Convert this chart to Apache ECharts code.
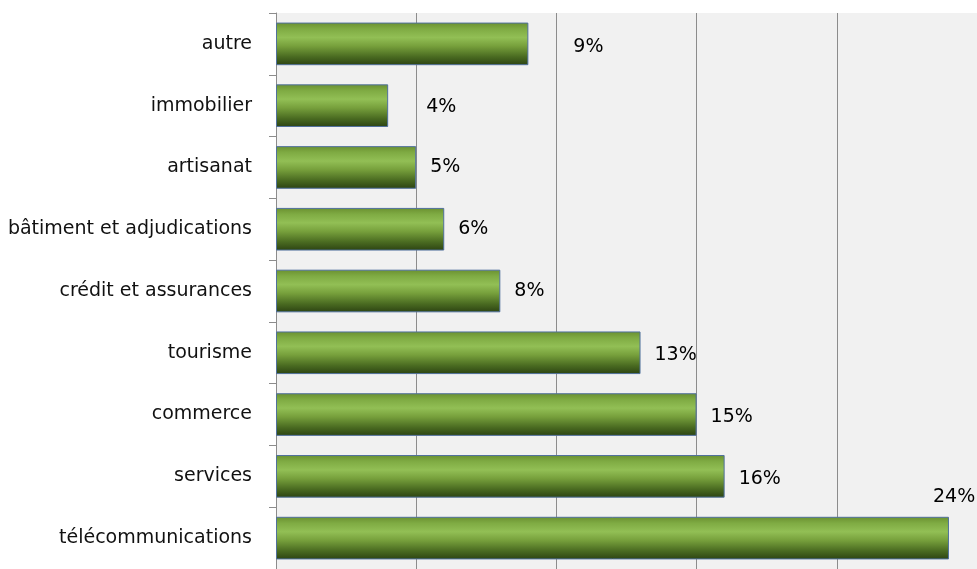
<!DOCTYPE html>
<html>
<head>
<meta charset="utf-8">
<script src="https://cdn.jsdelivr.net/npm/echarts@6/dist/echarts.min.js"></script>
<style>html,body{margin:0;padding:0;background:#fff;}#c{width:977px;height:569px;}</style>
</head>
<body>
<div id="c"></div>
<script>
const categories = ["autre", "immobilier", "artisanat", "bâtiment et adjudications", "crédit et assurances", "tourisme", "commerce", "services", "télécommunications"];
const values = [9, 4, 5, 6, 8, 13, 15, 16, 24];
const axisMax = 25;
const axisStep = 5;

// label nudges (styling only), matching manually placed labels in the original
const labelNudges = [[31, 3], [24, 1], [0, 0], [0, 0], [0, 0], [0, 2], [0, 3], [0, 3], [-30, -41]];

const chart = echarts.init(document.getElementById('c'));
const barGradient = new echarts.graphic.LinearGradient(0, 0, 0, 1, [
  {offset: 0, color: '#6a9030'},
  {offset: 0.15, color: '#7fab43'},
  {offset: 0.35, color: '#92bf55'},
  {offset: 0.55, color: '#77a03c'},
  {offset: 0.8, color: '#4a6b21'},
  {offset: 1, color: '#2c4312'}
]);
chart.setOption({
  animation: false,
  grid: {left: 276, right: -2, top: 13, bottom: -6, show: true, backgroundColor: '#f1f1f1', borderWidth: 0},
  xAxis: {
    type: 'value', min: 0, max: axisMax, interval: axisStep,
    axisLabel: {show: false}, axisTick: {show: false}, axisLine: {show: false},
    splitLine: {show: true, lineStyle: {color: '#8c8c8c', width: 1}}
  },
  yAxis: {
    type: 'category', data: categories, inverse: true,
    axisLine: {show: true, lineStyle: {color: '#8c8c8c', width: 1}},
    axisTick: {show: true, length: 7, lineStyle: {color: '#8c8c8c'}},
    axisLabel: {color: '#111', fontFamily: 'DejaVu Sans', fontSize: 19, margin: 24}
  },
  series: [{
    type: 'bar',
    barWidth: '69%',
    data: values.map((v, i) => ({
      value: v,
      label: {offset: labelNudges[i]}
    })),
    itemStyle: {color: barGradient, borderColor: '#50709c', borderWidth: 1},
    label: {
      show: true, position: 'right', distance: 14,
      formatter: '{c}%', color: '#000', fontFamily: 'DejaVu Sans', fontSize: 19
    }
  }]
});
</script>
</body>
</html>
